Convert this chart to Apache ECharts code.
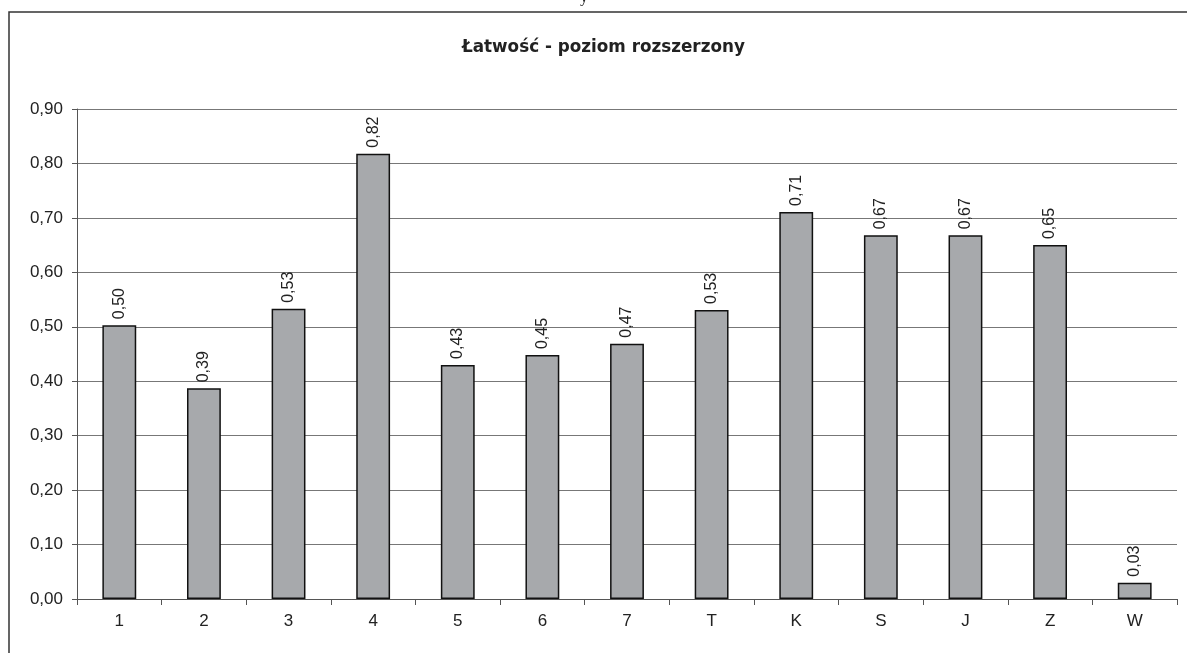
<!DOCTYPE html>
<html><head><meta charset="utf-8">
<script src="https://cdn.jsdelivr.net/npm/echarts@6/dist/echarts.min.js"></script>
<style>html,body{margin:0;padding:0;background:#fff}#c{width:1187px;height:653px}</style>
</head><body><div id="c"></div>
<script>
const categories = ['1','2','3','4','5','6','7','T','K','S','J','Z','W'];
const values = [0.503, 0.387, 0.533, 0.818, 0.430, 0.448, 0.469, 0.531, 0.711, 0.668, 0.668, 0.650, 0.030];
const titleText = 'Łatwość - poziom rozszerzony';
const yMin = 0, yMax = 0.9, yStep = 0.1;

const fmt = v => v.toFixed(2).replace('.', ',');
const chart = echarts.init(document.getElementById('c'));
chart.setOption({
  animation: false,
  backgroundColor: '#fff',
  title: {
    text: titleText, left: 457, top: 34, padding: [5, 5],
    textStyle: { fontFamily: 'DejaVu Sans', fontSize: 16.8, fontWeight: 'bold', color: '#222' }
  },
  graphic: [
    { type: 'rect', shape: { x: 9, y: 12, width: 1300, height: 800 }, style: { fill: 'none', stroke: '#333', lineWidth: 1.5 }, silent: true },
    { type: 'text', x: 580, y: -10, style: { text: 'y', font: '16px Liberation Serif', fill: '#222' }, silent: true }
  ],
  grid: { left: 77, right: 10, top: 109, bottom: 54, containLabel: false },
  xAxis: {
    type: 'category', data: categories,
    axisLine: { lineStyle: { color: '#555', width: 1 } },
    axisTick: { show: true, length: 6, alignWithLabel: false, lineStyle: { color: '#555' } },
    axisLabel: { color: '#222', fontSize: 17, fontFamily: 'Liberation Sans, Arial', margin: 14 }
  },
  yAxis: {
    type: 'value', min: yMin, max: yMax, interval: yStep,
    axisLine: { show: true, lineStyle: { color: '#555', width: 1 } },
    axisTick: { show: true, length: 5, lineStyle: { color: '#555' } },
    splitLine: { show: true, lineStyle: { color: '#777', width: 1 } },
    axisLabel: { color: '#222', fontSize: 17, fontFamily: 'Liberation Sans, Arial', margin: 14, formatter: v => fmt(v) }
  },
  series: [{
    type: 'bar', data: values, barWidth: '40%',
    itemStyle: { color: '#a7a9ac', borderColor: '#111', borderWidth: 1.5 },
    label: {
      show: true, position: 'top', rotate: 90, align: 'left', verticalAlign: 'middle', distance: 6,
      color: '#222', fontSize: 16, fontFamily: 'Liberation Sans, Arial',
      formatter: p => fmt(p.value)
    }
  }]
});
</script></body></html>
